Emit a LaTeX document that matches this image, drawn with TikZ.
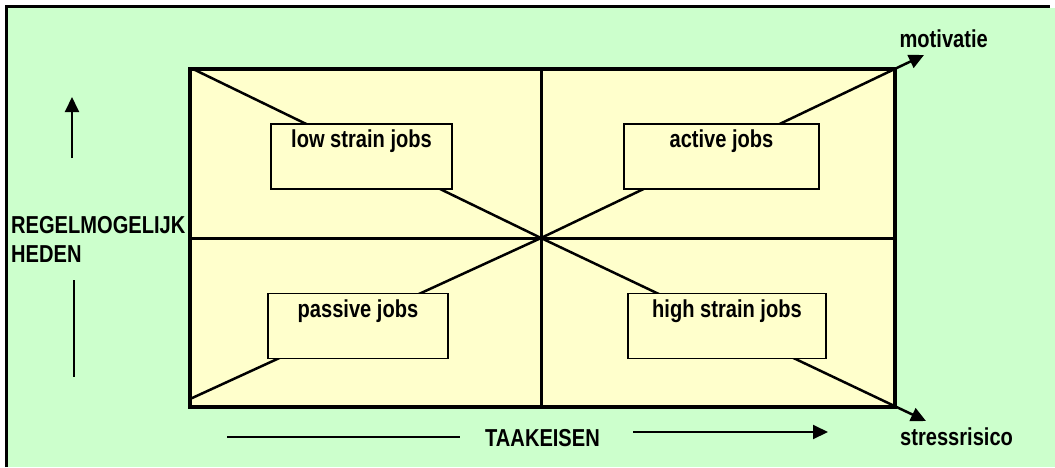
\documentclass[tikz,border=0pt]{standalone}
\usepackage{fontspec}
\setmainfont{Liberation Sans}[FakeStretch=0.82]
\usetikzlibrary{arrows.meta}
\definecolor{bggreen}{HTML}{CCFFCC}
\definecolor{quadyellow}{HTML}{FFFFCC}
\tikzset{
  lbl/.style={inner sep=0pt, font=\fontsize{24.5}{29}\selectfont\bfseries},
  jobbox/.style={draw=black, line width=1.5pt, fill=quadyellow, inner sep=0pt, minimum height=65pt},
  diag/.style={line width=2.5pt},
  axis/.style={line width=2pt},
  tip/.style={-{Triangle[length=15pt,width=14pt]}},
}
\begin{document}
\begin{tikzpicture}[x=1pt,y=-1pt]
\useasboundingbox (0,0) rectangle (1055,467);
% background frame
\fill[bggreen] (8,8) rectangle (1055,467);
\draw[line width=3pt] (6.5,467) -- (6.5,6.5) -- (1050,6.5);
% quadrant area
\coordinate (tl) at (190,69);
\coordinate (tr) at (895,69);
\coordinate (bl) at (190,407);
\coordinate (br) at (895,407);
\coordinate (c) at (541,238);
\coordinate (tm) at (541,69);
\coordinate (bm) at (541,407);
\coordinate (lm) at (190,238);
\coordinate (rm) at (895,238);
\fill[quadyellow] (tl) rectangle (br);
\draw[line width=3pt] (tm) -- (bm);
\draw[line width=3pt] (lm) -- (rm);
\draw[line width=4pt] (tl) rectangle (br);
% diagonals
\coordinate (dtl) at (193,69);
\coordinate (dbl) at (190,399);
\coordinate (mot) at (924,55);
\coordinate (str) at (926,421);
\draw[diag] (dtl) -- (c);
\draw[diag] (dbl) -- (c);
\draw[diag,tip] (c) -- (mot);
\draw[diag,tip] (c) -- (str);
% job boxes
\node[jobbox, minimum width=181pt] (low) at (361.5,156.5) {};
\node[jobbox, minimum width=195pt] (act) at (721.5,156.5) {};
\node[jobbox, minimum width=180pt] (pas) at (358,326) {};
\node[jobbox, minimum width=198pt] (high) at (727,326) {};
\node[lbl, anchor=base] (lowt) at ([yshift=-24pt]low.north) {low strain jobs};
\node[lbl, anchor=base] (actt) at ([yshift=-24pt]act.north) {active jobs};
\node[lbl, anchor=base] (past) at ([yshift=-25pt]pas.north) {passive jobs};
\node[lbl, anchor=base] (hight) at ([yshift=-25pt]high.north) {high strain jobs};
% outer labels
\node[lbl, anchor=base east] (motl) at (988,47) {motivatie};
\node[lbl, anchor=base west] (strl) at (900,445) {stressrisico};
\node[lbl, anchor=base west] (taak) at (485,446) {TAAKEISEN};
\node[lbl, anchor=base west] (reg1) at (11,233) {REGELMOGELIJK};
\node[lbl, anchor=base west] (reg2) at (11,262) {HEDEN};
% axis arrows
\coordinate (ua1) at (72,158);
\coordinate (ua2) at (72,97);
\coordinate (ul1) at (74,280);
\coordinate (ul2) at (74,377);
\coordinate (hl1) at (227,437);
\coordinate (hl2) at (460,437);
\coordinate (ha1) at (633,432);
\coordinate (ha2) at (828,432);
\draw[axis,tip] (ua1) -- (ua2);
\draw[axis] (ul1) -- (ul2);
\draw[axis] (hl1) -- (hl2);
\draw[axis,tip] (ha1) -- (ha2);
\end{tikzpicture}
\end{document}
